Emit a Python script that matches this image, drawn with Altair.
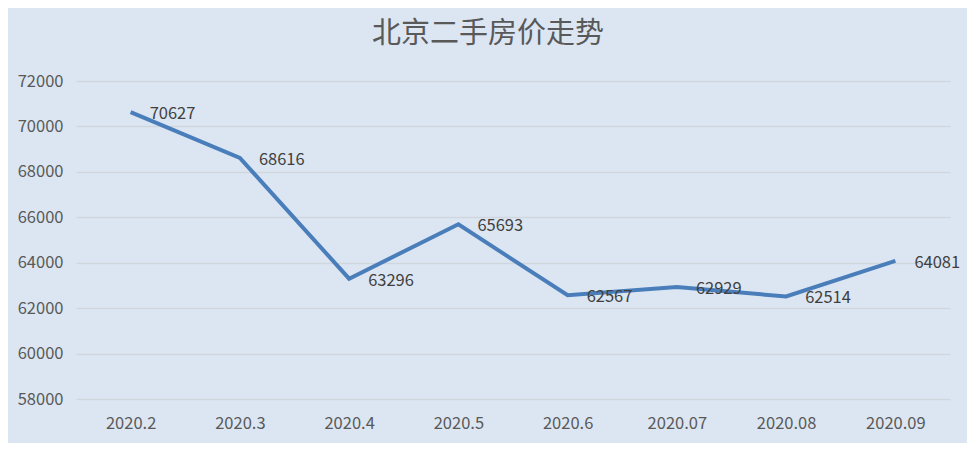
import altair as alt
import pandas as pd

months = ["2020.2", "2020.3", "2020.4", "2020.5", "2020.6", "2020.07", "2020.08", "2020.09"]
prices = [70627, 68616, 63296, 65693, 62567, 62929, 62514, 64081]

df = pd.DataFrame({"month": months, "price": prices})

BG = "#dce6f2"
FONT = "Noto Sans CJK SC"

x = alt.X("month:N", sort=months, title=None,
          scale=alt.Scale(paddingInner=0, paddingOuter=0.5),
          axis=alt.Axis(labelAngle=0, domain=False, ticks=False, labelPadding=16,
                        labelFontSize=16.5, labelColor="#595959", labelFont=FONT, grid=False))
y = alt.Y("price:Q", title=None,
          scale=alt.Scale(domain=[58000, 72000], nice=False, zero=False),
          axis=alt.Axis(values=list(range(58000, 72001, 2000)), domain=False, ticks=False,
                        labelPadding=13, labelFontSize=16.5, labelColor="#595959", labelFont=FONT,
                        gridColor="#d0d6de", gridWidth=1.5, format="d"))

line = alt.Chart(df).mark_line(color="#4a7ebb", strokeWidth=4, strokeJoin="miter").encode(x=x, y=y)
labels = alt.Chart(df).mark_text(align="left", baseline="middle", dx=19, dy=2,
                                 fontSize=16.5, color="#404040", font=FONT).encode(
    x=alt.X("month:N", sort=months), y="price:Q", text="price:Q")

chart = (line + labels).properties(
    width=874, height=318,
    autosize=alt.AutoSizeParams(type="none"),
    padding={"left": 68, "top": 73, "right": 17, "bottom": 44},
    background=BG,
    title=alt.TitleParams("北京二手房价走势", fontSize=29, font=FONT, color="#595959",
                          fontWeight="normal", anchor="middle", offset=24, dx=-25),
).configure_view(stroke=None)

chart.save("out.html", embed_options={"renderer": "svg", "actions": False})
